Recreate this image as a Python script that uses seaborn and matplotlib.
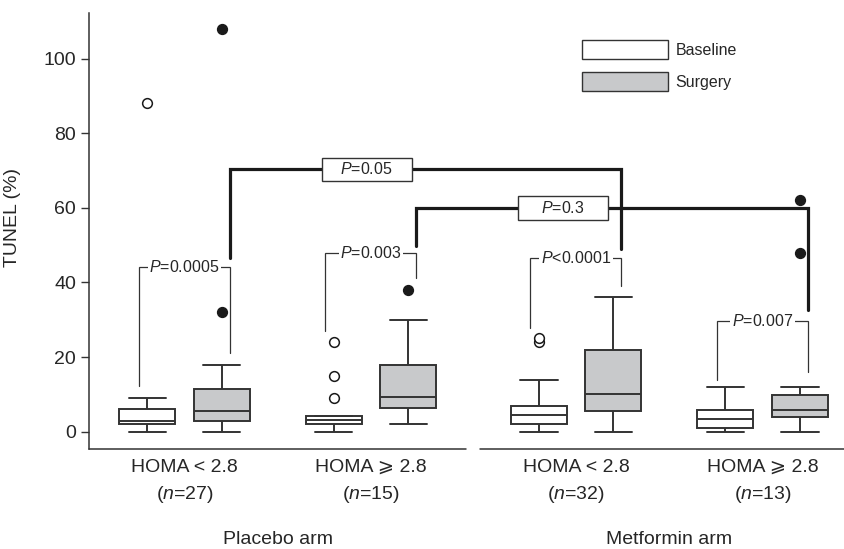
import numpy as np
import pandas as pd
import matplotlib
matplotlib.use("Agg")
import matplotlib.pyplot as plt
from matplotlib.patches import Patch, Rectangle
import seaborn as sns

# ---------------- data ----------------
arm_labels = ["Placebo arm", "Metformin arm"]
homa_labels = ["HOMA < 2.8", "HOMA \u2A7E 2.8", "HOMA < 2.8", "HOMA \u2A7E 2.8"]
n_per_group = [27, 15, 32, 13]
conditions = ["Baseline", "Surgery"]

# box statistics (order: grp1 baseline, grp1 surgery, grp2 baseline, ...)
whisker_low = [0, 0, 0, 2, 0, 0, 0, 0]
quartile_1 = [2.2, 3.0, 2.2, 6.3, 2.1, 5.6, 1.0, 3.9]
medians = [3.0, 5.5, 3.1, 9.3, 4.5, 10.0, 3.4, 5.8]
quartile_3 = [6.0, 11.5, 4.2, 17.9, 6.9, 22.0, 5.8, 9.8]
whisker_high = [9.0, 18.0, 4.2, 30.0, 14.0, 36.0, 12.0, 12.0]
outliers = [[88], [32, 108], [9, 15, 24], [38], [24, 25], [], [], [48, 62]]

p_within = ["$P$=0.0005", "$P$=0.003", "$P$<0.0001", "$P$=0.007"]
p_between = ["$P$=0.05", "$P$=0.3"]

# ---------------- layout ----------------
group_x = [0.0, 1.0, 2.1, 3.1]

rows = []
for i in range(8):
    o = len(outliers[i])
    vals = ([whisker_low[i]] * (1 + o) + [quartile_1[i]] * 6 + [medians[i]] * 3
            + [quartile_3[i]] * 6 + [whisker_high[i]] + list(outliers[i]))
    for v in vals:
        rows.append({"pos": group_x[i // 2], "condition": conditions[i % 2], "value": v})
df = pd.DataFrame(rows)

sns.set_style("ticks")
plt.rcParams["font.family"] = ["Liberation Sans", "DejaVu Sans"]
plt.rcParams["mathtext.fontset"] = "custom"
plt.rcParams["mathtext.rm"] = "Liberation Sans"
plt.rcParams["mathtext.it"] = "Liberation Sans:italic"

EDGE = "#333333"
palette = {"Baseline": "#ffffff", "Surgery": "#c8c9cb"}

fig = plt.figure(figsize=(8.45, 5.49), dpi=100)
ax = fig.add_axes([0.1057, 0.1816, 0.8943, 0.7953])

common = dict(x="pos", y="value", hue="condition", hue_order=conditions,
              palette=palette, native_scale=True, dodge=True, width=0.8, gap=0.25,
              linewidth=1.4, linecolor=EDGE, legend=False, capwidths=0.2, ax=ax)

sns.boxplot(data=df[df.condition == "Baseline"], **common)
n1 = len(ax.lines)
sns.boxplot(data=df[df.condition == "Surgery"], **common)
for k, line in enumerate(ax.lines):
    if line.get_marker() not in (None, "None", "", " "):
        line.set_marker("o")
        line.set_markersize(7)
        line.set_markeredgewidth(1.1)
        line.set_markeredgecolor("#1a1a1a")
        line.set_markerfacecolor("white" if k < n1 else "#1a1a1a")

# ---------------- axes ----------------
ax.set_xlim(-0.5105, 3.5416)
ax.set_ylim(-4.7, 112.3)
ax.set_yticks([0, 20, 40, 60, 80, 100])
ax.tick_params(axis="y", length=5.5, width=1, color=EDGE, labelsize=14, pad=4)
ax.set_xticks(group_x)
ax.set_xticklabels([f"{h}\n($n$={n})" for h, n in zip(homa_labels, n_per_group)],
                   fontsize=14, linespacing=1.55)
ax.tick_params(axis="x", length=0, pad=7)
ax.set_xlabel("")
ax.set_ylabel("TUNEL (%)", fontsize=14)
ax.yaxis.set_label_coords(-0.091, 0.532)

for s in ["top", "right", "bottom"]:
    ax.spines[s].set_visible(False)
ax.spines["left"].set_color(EDGE)
ax.spines["left"].set_linewidth(1.1)
xt = ax.get_xaxis_transform()
ax.plot([-0.5105, 1.51], [0, 0], transform=xt, color=EDGE, lw=1.1, clip_on=False)
ax.plot([1.585, 3.5416], [0, 0], transform=xt, color=EDGE, lw=1.1, clip_on=False)

for k, arm in enumerate(arm_labels):
    cx = (group_x[2 * k] + group_x[2 * k + 1]) / 2
    ax.text(cx, -0.207, arm, transform=xt, ha="center", va="center", fontsize=14)

# ---------------- p-value brackets ----------------
w_top = [44.1, 47.9, 46.6, 29.6]
w_left_bottom = [12.2, 26.9, 27.9, 13.9]
w_right_bottom = [21.1, 41.2, 39.0, 15.9]
left_x = [g - 0.2 - 0.045 for g in group_x]
right_x = [g + 0.2 + 0.042 for g in group_x]
for g in range(4):
    ax.plot([left_x[g], left_x[g], right_x[g], right_x[g]],
            [w_left_bottom[g], w_top[g], w_top[g], w_right_bottom[g]],
            color=EDGE, lw=0.9, solid_joinstyle="miter")
    ax.text(group_x[g], w_top[g], p_within[g], ha="center", va="center", fontsize=11.5,
            bbox=dict(facecolor="white", edgecolor="none", pad=1.2))

thick = [
    (right_x[0], right_x[2], 46.6, 70.3, 49.0, 0.977),
    (right_x[1], right_x[3], 49.7, 60.0, 32.7, 2.03),
]
for (xa, xb, ya, ytop, yb, lx), lab in zip(thick, p_between):
    ax.plot([xa, xa, xb, xb], [ya, ytop, ytop, yb], color="#1a1a1a", lw=2.3,
            solid_joinstyle="miter", zorder=3)
    bw, bh = 0.483, 6.3
    ax.add_patch(Rectangle((lx - bw / 2, ytop - bh / 2), bw, bh, facecolor="white",
                           edgecolor=EDGE, lw=1.0, zorder=4))
    ax.text(lx, ytop, lab, ha="center", va="center", fontsize=11.5, zorder=5)

# ---------------- legend ----------------
handles = [Patch(facecolor=palette[c], edgecolor=EDGE, lw=1.0) for c in conditions]
fig.legend(handles, conditions, loc="upper left", bbox_to_anchor=(582 / 845, 1 - 40.5 / 549),
           frameon=False, fontsize=11.5, handlelength=5.4, handleheight=1.45,
           handletextpad=0.45, labelspacing=0.8, borderpad=0, borderaxespad=0)

fig.savefig("out.png", dpi=100)
